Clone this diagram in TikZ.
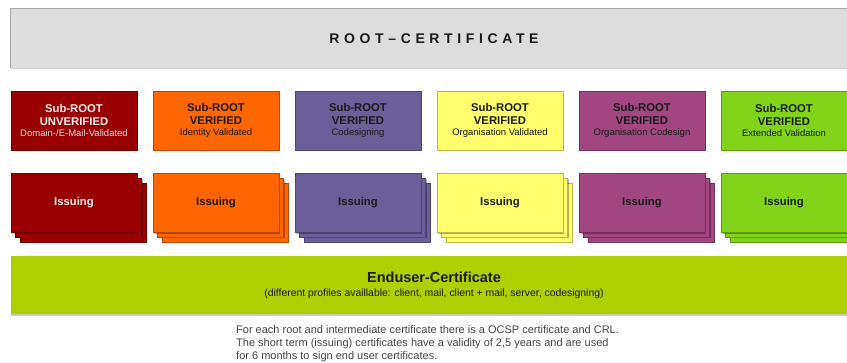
\documentclass[tikz,border=0pt]{standalone}
\usepackage{fontspec}
\setmainfont{Liberation Sans}
\newfontfamily\rootfont{Liberation Sans}[LetterSpace=33]
\usetikzlibrary{shadows}
\definecolor{cA}{HTML}{990000}
\definecolor{cB}{HTML}{FF6600}
\definecolor{cC}{HTML}{6B5E9B}
\definecolor{cD}{HTML}{FFFF6D}
\definecolor{cE}{HTML}{A1467E}
\definecolor{cF}{HTML}{81D41A}
\definecolor{cEnd}{HTML}{AECF00}
\definecolor{rootfill}{HTML}{DDDDDD}
\definecolor{darktext}{HTML}{1A1A1A}
\definecolor{notetext}{HTML}{444444}
\begin{document}
\begin{tikzpicture}[x=1pt,y=-1pt,
  box/.style={draw=#1!72!black, fill=#1, line width=0.6pt, minimum width=126pt,
    minimum height=59pt, inner sep=0pt, align=center, text=darktext},
  shad/.style={drop shadow={shadow xshift=1.2pt, shadow yshift=-1.2pt, fill=black, opacity=0.3}},
  subfont/.style={font=\fontsize{11.3}{13}\selectfont\bfseries},
  isfont/.style={font=\fontsize{11.3}{13}\selectfont\bfseries},
  light/.style={text=white!94!black}
]
\useasboundingbox (0,0) rectangle (847,362);
% root
\node[fill=rootfill, minimum width=846pt, minimum height=59pt, inner sep=0pt,
  font=\rootfont\bfseries\fontsize{14}{16}\selectfont, text=darktext] (root) at (434,38.5) {ROOT–CERTIFICATE};
\draw[line width=0.8pt, color=black!35] (root.south west) -- (root.north west) -- (root.north east);
\draw[line width=0.8pt, color=black!18] (root.south west) -- (root.south east);
% sub-roots
\node[box=cA, shad, subfont, light] (s1) at (74,120.5)
  {Sub-ROOT\\UNVERIFIED\\[-1.5pt]{\fontsize{9.5}{11}\selectfont\mdseries\color{white!85!black}Domain-/E-Mail-Validated}};
\node[box=cB, shad, subfont] (s2) at (216,120.5)
  {Sub-ROOT\\VERIFIED\\[-1.5pt]{\fontsize{9.5}{11}\selectfont\mdseries Identity Validated}};
\node[box=cC, shad, subfont] (s3) at (358,120.5)
  {Sub-ROOT\\VERIFIED\\[-1.5pt]{\fontsize{9.5}{11}\selectfont\mdseries Codesigning}};
\node[box=cD, shad, subfont] (s4) at (500,120.5)
  {Sub-ROOT\\VERIFIED\\[-1.5pt]{\fontsize{9.5}{11}\selectfont\mdseries Organisation Validated}};
\node[box=cE, shad, subfont] (s5) at (642,120.5)
  {Sub-ROOT\\VERIFIED\\[-1.5pt]{\fontsize{9.5}{11}\selectfont\mdseries Organisation Codesign}};
\node[box=cF, shad, subfont] (s6) at (784,120.5)
  {Sub-ROOT\\VERIFIED\\[-1.5pt]{\fontsize{9.5}{11}\selectfont\mdseries Extended Validation}};
% issuing stacks
\foreach \i/\cx/\col/\tc in {1/74/cA/white!94!black, 2/216/cB/darktext, 3/358/cC/darktext,
    4/500/cD/darktext, 5/642/cE/darktext, 6/784/cF/darktext} {
  \node[box=\col, shad] (i\i c) at (\cx+9,212.5) {};
  \node[box=\col, shad] (i\i b) at (\cx+4.5,207.5) {};
  \node[box=\col, shad, isfont, text=\tc] (i\i) at (\cx,203) {Issuing};
}
% enduser
\node[fill=cEnd, minimum width=846pt, minimum height=57.5pt, inner sep=0pt, align=center,
  drop shadow={shadow xshift=0pt, shadow yshift=-2pt, fill=black, opacity=0.22},
  font=\fontsize{10.4}{13.7}\selectfont, text=darktext] (eu) at (434,285)
  {{\fontsize{14.5}{17}\selectfont\bfseries Enduser-Certificate}\\(different profiles availlable: client, mail, client + mail, server, codesigning)};
% note
\node[anchor=north west, align=left, inner sep=0pt, font=\fontsize{11}{13.2}\selectfont,
  text=notetext] (note) at (236,325)
  {For each root and intermediate certificate there is a OCSP certificate and CRL.\\
   The short term (issuing) certificates have a validity of 2,5 years and are used\\
   for 6 months to sign end user certificates.};
\end{tikzpicture}
\end{document}
